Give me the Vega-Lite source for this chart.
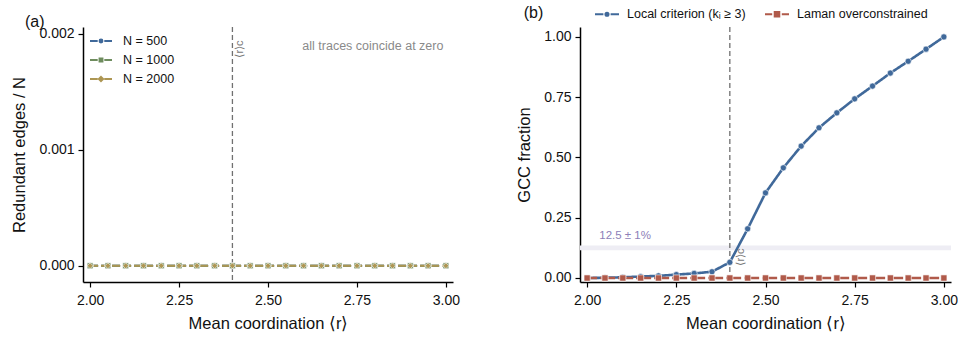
{
  "$schema": "https://vega.github.io/schema/vega-lite/v6.json",
  "background": "white",
  "padding": {"left": 11, "top": 1, "right": 5, "bottom": 3},
  "config": {
    "font": "Liberation Sans",
    "view": {"stroke": null},
    "axis": {"domainColor": "#000", "domainWidth": 1.5, "tickColor": "#000", "tickWidth": 1.2, "tickSize": 5, "labelFontSize": 14, "labelColor": "#111", "titleFontSize": 16.5, "titleFontWeight": "normal", "titleColor": "#111", "grid": false},
    "axisX": {"labelPadding": 6, "titlePadding": 8},
    "axisY": {"labelPadding": 4, "titlePadding": 11},
    "legend": {"labelFontSize": 12.5, "labelColor": "#111", "labelFont": "Liberation Sans"},
    "title": {"fontSize": 16, "fontWeight": "normal", "anchor": "start", "frame": "bounds", "color": "#111"}
  },
  "spacing": 56,
  "resolve": {"scale": {"color": "independent", "x": "independent", "y": "independent"}, "legend": {"color": "independent"}},
  "hconcat": [
    {
      "width": 370,
      "height": 255,
      "title": {"text": "(a)", "dx": 13, "offset": -4},
      "layer": [
        {
          "data": {"values": [{"rc": 2.4}]},
          "mark": {"type": "rule", "color": "#707070", "strokeDash": [5, 3], "strokeWidth": 1.3},
          "encoding": {"x": {"field": "rc", "type": "quantitative", "scale": {"domain": [1.98, 3.02], "nice": false, "zero": false}}}
        },
        {
          "data": {"values": [
            {"r": 2.00, "n": "N = 500", "v": 0}, {"r": 2.05, "n": "N = 500", "v": 0}, {"r": 2.10, "n": "N = 500", "v": 0}, {"r": 2.15, "n": "N = 500", "v": 0}, {"r": 2.20, "n": "N = 500", "v": 0}, {"r": 2.25, "n": "N = 500", "v": 0}, {"r": 2.30, "n": "N = 500", "v": 0}, {"r": 2.35, "n": "N = 500", "v": 0}, {"r": 2.40, "n": "N = 500", "v": 0}, {"r": 2.45, "n": "N = 500", "v": 0}, {"r": 2.50, "n": "N = 500", "v": 0}, {"r": 2.55, "n": "N = 500", "v": 0}, {"r": 2.60, "n": "N = 500", "v": 0}, {"r": 2.65, "n": "N = 500", "v": 0}, {"r": 2.70, "n": "N = 500", "v": 0}, {"r": 2.75, "n": "N = 500", "v": 0}, {"r": 2.80, "n": "N = 500", "v": 0}, {"r": 2.85, "n": "N = 500", "v": 0}, {"r": 2.90, "n": "N = 500", "v": 0}, {"r": 2.95, "n": "N = 500", "v": 0}, {"r": 3.00, "n": "N = 500", "v": 0},
            {"r": 2.00, "n": "N = 1000", "v": 0}, {"r": 2.05, "n": "N = 1000", "v": 0}, {"r": 2.10, "n": "N = 1000", "v": 0}, {"r": 2.15, "n": "N = 1000", "v": 0}, {"r": 2.20, "n": "N = 1000", "v": 0}, {"r": 2.25, "n": "N = 1000", "v": 0}, {"r": 2.30, "n": "N = 1000", "v": 0}, {"r": 2.35, "n": "N = 1000", "v": 0}, {"r": 2.40, "n": "N = 1000", "v": 0}, {"r": 2.45, "n": "N = 1000", "v": 0}, {"r": 2.50, "n": "N = 1000", "v": 0}, {"r": 2.55, "n": "N = 1000", "v": 0}, {"r": 2.60, "n": "N = 1000", "v": 0}, {"r": 2.65, "n": "N = 1000", "v": 0}, {"r": 2.70, "n": "N = 1000", "v": 0}, {"r": 2.75, "n": "N = 1000", "v": 0}, {"r": 2.80, "n": "N = 1000", "v": 0}, {"r": 2.85, "n": "N = 1000", "v": 0}, {"r": 2.90, "n": "N = 1000", "v": 0}, {"r": 2.95, "n": "N = 1000", "v": 0}, {"r": 3.00, "n": "N = 1000", "v": 0},
            {"r": 2.00, "n": "N = 2000", "v": 0}, {"r": 2.05, "n": "N = 2000", "v": 0}, {"r": 2.10, "n": "N = 2000", "v": 0}, {"r": 2.15, "n": "N = 2000", "v": 0}, {"r": 2.20, "n": "N = 2000", "v": 0}, {"r": 2.25, "n": "N = 2000", "v": 0}, {"r": 2.30, "n": "N = 2000", "v": 0}, {"r": 2.35, "n": "N = 2000", "v": 0}, {"r": 2.40, "n": "N = 2000", "v": 0}, {"r": 2.45, "n": "N = 2000", "v": 0}, {"r": 2.50, "n": "N = 2000", "v": 0}, {"r": 2.55, "n": "N = 2000", "v": 0}, {"r": 2.60, "n": "N = 2000", "v": 0}, {"r": 2.65, "n": "N = 2000", "v": 0}, {"r": 2.70, "n": "N = 2000", "v": 0}, {"r": 2.75, "n": "N = 2000", "v": 0}, {"r": 2.80, "n": "N = 2000", "v": 0}, {"r": 2.85, "n": "N = 2000", "v": 0}, {"r": 2.90, "n": "N = 2000", "v": 0}, {"r": 2.95, "n": "N = 2000", "v": 0}, {"r": 3.00, "n": "N = 2000", "v": 0}
          ]},
          "layer": [
            {
              "mark": {"type": "point", "filled": true, "opacity": 0},
              "encoding": {
                "x": {"field": "r", "type": "quantitative", "scale": {"domain": [1.98, 3.02], "nice": false, "zero": false}},
                "y": {"field": "v", "type": "quantitative", "scale": {"domain": [-0.00014, 0.00206], "nice": false, "zero": false}},
                "color": {"field": "n", "type": "nominal", "scale": {"domain": ["N = 500", "N = 1000", "N = 2000"], "range": ["#40699a", "#6e8c5e", "#ad9653"]},
                  "legend": {"title": null, "orient": "top-left", "offset": 2, "rowPadding": -5, "labelOffset": 10, "symbolOffset": 4,
                    "encode": {"symbols": {"update": {
                      "shape": {"signal": "datum.value === 'N = 500' ? 'M-1,0H-0.3M0.3,0H1M0.13,0A0.13,0.13,0,1,1,-0.13,0A0.13,0.13,0,1,1,0.13,0Z' : datum.value === 'N = 1000' ? 'M-1,0H-0.3M0.3,0H1M-0.13,-0.13H0.13V0.13H-0.13Z' : 'M-1,0H-0.3M0.3,0H1M0,-0.19L0.19,0L0,0.19L-0.19,0Z'"},
                      "size": {"value": 484},
                      "fill": {"signal": "datum.value === 'N = 500' ? '#40699a' : datum.value === 'N = 1000' ? '#6e8c5e' : '#ad9653'"},
                      "stroke": {"signal": "datum.value === 'N = 500' ? '#40699a' : datum.value === 'N = 1000' ? '#6e8c5e' : '#ad9653'"},
                      "strokeWidth": {"value": 2},
                      "opacity": {"value": 1}
                    }}}}}
              }
            },
            {
              "mark": {"type": "line", "strokeWidth": 2.2, "strokeDash": [8, 3]},
              "encoding": {
                "x": {"field": "r", "type": "quantitative", "title": "Mean coordination ⟨r⟩", "scale": {"domain": [1.98, 3.02], "nice": false, "zero": false}, "axis": {"values": [2, 2.25, 2.5, 2.75, 3], "format": ".2f"}},
                "y": {"field": "v", "type": "quantitative", "title": "Redundant edges / N", "scale": {"domain": [-0.00014, 0.00206], "nice": false, "zero": false}, "axis": {"values": [0, 0.001, 0.002], "format": ".3f"}},
                "color": {"field": "n", "type": "nominal", "scale": {"domain": ["N = 500", "N = 1000", "N = 2000"], "range": ["#40699a", "#6e8c5e", "#ad9653"]}}
              }
            },
            {
              "mark": {"type": "point", "filled": true, "opacity": 1, "size": 34, "stroke": "white", "strokeWidth": 0.6},
              "encoding": {
                "x": {"field": "r", "type": "quantitative", "scale": {"domain": [1.98, 3.02], "nice": false, "zero": false}},
                "y": {"field": "v", "type": "quantitative", "scale": {"domain": [-0.00014, 0.00206], "nice": false, "zero": false}},
                "color": {"field": "n", "type": "nominal", "scale": {"domain": ["N = 500", "N = 1000", "N = 2000"], "range": ["#40699a", "#6e8c5e", "#ad9653"]}},
                "shape": {"condition": [{"test": "datum.n === 'N = 1000'", "value": "square"}, {"test": "datum.n === 'N = 2000'", "value": "diamond"}], "value": "circle"}
              }
            }
          ]
        },
        {
          "data": {"values": [{"label": "all traces coincide at zero", "x": 2.993, "y": 0.0019}]},
          "mark": {"type": "text", "align": "right", "baseline": "middle", "fontSize": 12.5, "color": "#8a8a8a"},
          "encoding": {"x": {"field": "x", "type": "quantitative"}, "y": {"field": "y", "type": "quantitative"}, "text": {"field": "label"}}
        },
        {
          "data": {"values": [{"label": "⟨r⟩c", "x": 2.422, "y": 0.00187}]},
          "mark": {"type": "text", "align": "center", "baseline": "middle", "angle": 270, "fontSize": 11, "color": "#777"},
          "encoding": {"x": {"field": "x", "type": "quantitative"}, "y": {"field": "y", "type": "quantitative"}, "text": {"field": "label"}}
        }
      ]
    },
    {
      "width": 371,
      "height": 255,
      "title": {"text": "(b)", "dx": 7, "offset": -20},
      "layer": [
        {
          "data": {"values": [{"lo": 0.115, "hi": 0.135, "x0": 1.98, "x1": 3.02}]},
          "mark": {"type": "rect", "color": "#eeedf4"},
          "encoding": {
            "x": {"field": "x0", "type": "quantitative", "scale": {"domain": [1.98, 3.02], "nice": false, "zero": false}},
            "x2": {"field": "x1"},
            "y": {"field": "lo", "type": "quantitative", "scale": {"domain": [-0.0166, 1.041], "nice": false, "zero": false}},
            "y2": {"field": "hi"}
          }
        },
        {
          "data": {"values": [{"rc": 2.4}]},
          "mark": {"type": "rule", "color": "#707070", "strokeDash": [5, 3], "strokeWidth": 1.3},
          "encoding": {"x": {"field": "rc", "type": "quantitative", "scale": {"domain": [1.98, 3.02], "nice": false, "zero": false}}}
        },
        {
          "data": {"values": [
            {"r": 2.00, "m": "Local criterion (kᵢ ≥ 3)", "g": 0.000}, {"r": 2.05, "m": "Local criterion (kᵢ ≥ 3)", "g": 0.001}, {"r": 2.10, "m": "Local criterion (kᵢ ≥ 3)", "g": 0.003}, {"r": 2.15, "m": "Local criterion (kᵢ ≥ 3)", "g": 0.006}, {"r": 2.20, "m": "Local criterion (kᵢ ≥ 3)", "g": 0.009}, {"r": 2.25, "m": "Local criterion (kᵢ ≥ 3)", "g": 0.014}, {"r": 2.30, "m": "Local criterion (kᵢ ≥ 3)", "g": 0.019}, {"r": 2.35, "m": "Local criterion (kᵢ ≥ 3)", "g": 0.026}, {"r": 2.40, "m": "Local criterion (kᵢ ≥ 3)", "g": 0.065}, {"r": 2.45, "m": "Local criterion (kᵢ ≥ 3)", "g": 0.204}, {"r": 2.50, "m": "Local criterion (kᵢ ≥ 3)", "g": 0.353}, {"r": 2.55, "m": "Local criterion (kᵢ ≥ 3)", "g": 0.457}, {"r": 2.60, "m": "Local criterion (kᵢ ≥ 3)", "g": 0.547}, {"r": 2.65, "m": "Local criterion (kᵢ ≥ 3)", "g": 0.623}, {"r": 2.70, "m": "Local criterion (kᵢ ≥ 3)", "g": 0.685}, {"r": 2.75, "m": "Local criterion (kᵢ ≥ 3)", "g": 0.743}, {"r": 2.80, "m": "Local criterion (kᵢ ≥ 3)", "g": 0.796}, {"r": 2.85, "m": "Local criterion (kᵢ ≥ 3)", "g": 0.850}, {"r": 2.90, "m": "Local criterion (kᵢ ≥ 3)", "g": 0.899}, {"r": 2.95, "m": "Local criterion (kᵢ ≥ 3)", "g": 0.949}, {"r": 3.00, "m": "Local criterion (kᵢ ≥ 3)", "g": 1.000},
            {"r": 2.00, "m": "Laman overconstrained", "g": 0}, {"r": 2.05, "m": "Laman overconstrained", "g": 0}, {"r": 2.10, "m": "Laman overconstrained", "g": 0}, {"r": 2.15, "m": "Laman overconstrained", "g": 0}, {"r": 2.20, "m": "Laman overconstrained", "g": 0}, {"r": 2.25, "m": "Laman overconstrained", "g": 0}, {"r": 2.30, "m": "Laman overconstrained", "g": 0}, {"r": 2.35, "m": "Laman overconstrained", "g": 0}, {"r": 2.40, "m": "Laman overconstrained", "g": 0}, {"r": 2.45, "m": "Laman overconstrained", "g": 0}, {"r": 2.50, "m": "Laman overconstrained", "g": 0}, {"r": 2.55, "m": "Laman overconstrained", "g": 0}, {"r": 2.60, "m": "Laman overconstrained", "g": 0}, {"r": 2.65, "m": "Laman overconstrained", "g": 0}, {"r": 2.70, "m": "Laman overconstrained", "g": 0}, {"r": 2.75, "m": "Laman overconstrained", "g": 0}, {"r": 2.80, "m": "Laman overconstrained", "g": 0}, {"r": 2.85, "m": "Laman overconstrained", "g": 0}, {"r": 2.90, "m": "Laman overconstrained", "g": 0}, {"r": 2.95, "m": "Laman overconstrained", "g": 0}, {"r": 3.00, "m": "Laman overconstrained", "g": 0}
          ]},
          "layer": [
            {
              "mark": {"type": "point", "filled": true, "opacity": 0},
              "encoding": {
                "x": {"field": "r", "type": "quantitative", "scale": {"domain": [1.98, 3.02], "nice": false, "zero": false}},
                "y": {"field": "g", "type": "quantitative", "scale": {"domain": [-0.0166, 1.041], "nice": false, "zero": false}},
                "color": {"field": "m", "type": "nominal", "scale": {"domain": ["Local criterion (kᵢ ≥ 3)", "Laman overconstrained"], "range": ["#40699a", "#b05a4a"]},
                  "legend": {"title": null, "orient": "top", "direction": "horizontal", "offset": 6, "columnPadding": 4, "labelOffset": 7, "symbolOffset": 14,
                    "encode": {"symbols": {"update": {
                      "shape": {"signal": "datum.value === 'Laman overconstrained' ? 'M-1,0H-0.4M0.4,0H1M-0.19,-0.19H0.19V0.19H-0.19Z' : 'M-1,0H-0.3M0.3,0H1M0.13,0A0.13,0.13,0,1,1,-0.13,0A0.13,0.13,0,1,1,0.13,0Z'"},
                      "size": {"value": 576},
                      "fill": {"signal": "datum.value === 'Laman overconstrained' ? '#b05a4a' : '#40699a'"},
                      "stroke": {"signal": "datum.value === 'Laman overconstrained' ? '#b05a4a' : '#40699a'"},
                      "strokeWidth": {"value": 2},
                      "opacity": {"value": 1}
                    }}}}}
              }
            },
            {
              "mark": {"type": "line", "strokeWidth": 2.6},
              "encoding": {
                "x": {"field": "r", "type": "quantitative", "title": "Mean coordination ⟨r⟩", "scale": {"domain": [1.98, 3.02], "nice": false, "zero": false}, "axis": {"values": [2, 2.25, 2.5, 2.75, 3], "format": ".2f"}},
                "y": {"field": "g", "type": "quantitative", "title": "GCC fraction", "scale": {"domain": [-0.0166, 1.041], "nice": false, "zero": false}, "axis": {"values": [0, 0.25, 0.5, 0.75, 1], "format": ".2f"}},
                "color": {"field": "m", "type": "nominal", "scale": {"domain": ["Local criterion (kᵢ ≥ 3)", "Laman overconstrained"], "range": ["#40699a", "#b05a4a"]}},
                "strokeDash": {"condition": {"test": "datum.m === 'Laman overconstrained'", "value": [10, 3, 2, 3]}, "value": [1, 0]}
              }
            },
            {
              "mark": {"type": "point", "filled": true, "opacity": 1, "size": 38, "stroke": "white", "strokeWidth": 0.6},
              "encoding": {
                "x": {"field": "r", "type": "quantitative", "scale": {"domain": [1.98, 3.02], "nice": false, "zero": false}},
                "y": {"field": "g", "type": "quantitative", "scale": {"domain": [-0.0166, 1.041], "nice": false, "zero": false}},
                "color": {"field": "m", "type": "nominal", "scale": {"domain": ["Local criterion (kᵢ ≥ 3)", "Laman overconstrained"], "range": ["#40699a", "#b05a4a"]}},
                "shape": {"condition": {"test": "datum.m === 'Laman overconstrained'", "value": "square"}, "value": "circle"}
              }
            }
          ]
        },
        {
          "data": {"values": [{"label": "12.5 ± 1%", "x": 2.034, "y": 0.175}]},
          "mark": {"type": "text", "align": "left", "baseline": "middle", "fontSize": 11.5, "color": "#8d80b8"},
          "encoding": {"x": {"field": "x", "type": "quantitative"}, "y": {"field": "y", "type": "quantitative"}, "text": {"field": "label"}}
        },
        {
          "data": {"values": [{"label": "⟨r⟩c", "x": 2.43, "y": 0.087}]},
          "mark": {"type": "text", "align": "center", "baseline": "middle", "angle": 270, "fontSize": 11, "color": "#777"},
          "encoding": {"x": {"field": "x", "type": "quantitative"}, "y": {"field": "y", "type": "quantitative"}, "text": {"field": "label"}}
        }
      ]
    }
  ]
}
